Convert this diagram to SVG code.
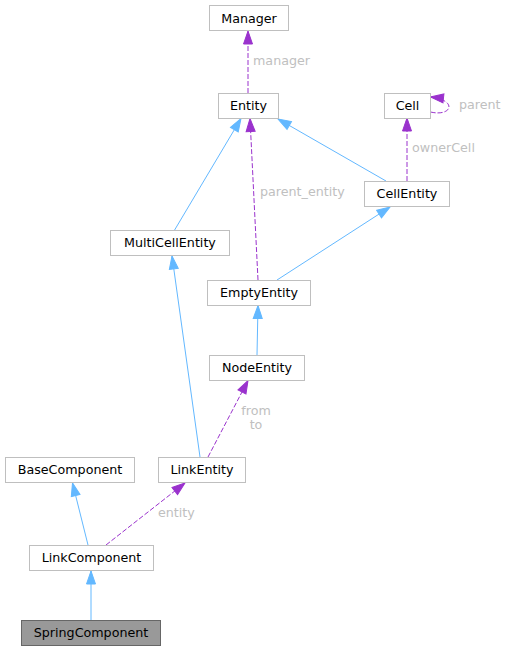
<svg xmlns="http://www.w3.org/2000/svg" width="507" height="651" viewBox="0 0 507 651">
<style>
.node rect{fill:#ffffff;stroke:#bfbfbf;stroke-width:1}
.node text{font-family:"DejaVu Sans",sans-serif;font-size:12.7px;fill:#000000;text-anchor:middle}
.hl rect{fill:#999999;stroke:#666666}
.inh{fill:none;stroke:#63b8ff;stroke-width:1}
.use{fill:none;stroke:#9a32cd;stroke-width:1;stroke-dasharray:5,2}
.lbl{font-family:"DejaVu Sans",sans-serif;font-size:12.7px;fill:#c0c0c0}
</style>
<defs>
<marker id="ab" markerUnits="userSpaceOnUse" markerWidth="16" markerHeight="12" refX="14" refY="5.5" orient="auto">
<path d="M1,1 L14,5.5 L1,10 z" fill="#63b8ff" stroke="#63b8ff"/>
</marker>
<marker id="ap" markerUnits="userSpaceOnUse" markerWidth="16" markerHeight="12" refX="14" refY="5.5" orient="auto">
<path d="M1,1 L14,5.5 L1,10 z" fill="#9a32cd" stroke="#9a32cd"/>
</marker>
</defs>
<g id="edges">
<path class="use" d="M248,93 L248,31" marker-end="url(#ap)"/>
<text class="lbl" x="253" y="65">manager</text>
<path class="use" d="M430.5,112 C452,117 458,100 430.5,97" marker-end="url(#ap)"/>
<text class="lbl" x="459" y="109">parent</text>
<path class="use" d="M407,181 L407,118" marker-end="url(#ap)"/>
<text class="lbl" x="412" y="152">ownerCell</text>
<path class="inh" d="M386,181 L278,119" marker-end="url(#ab)"/>
<path class="inh" d="M174,231 L241,118.5" marker-end="url(#ab)"/>
<path class="use" d="M258,280 L250,118.5" marker-end="url(#ap)"/>
<text class="lbl" x="260" y="196">parent_entity</text>
<path class="inh" d="M277,280 L390,207" marker-end="url(#ab)"/>
<path class="inh" d="M257,355 L258,305.5" marker-end="url(#ab)"/>
<path class="inh" d="M200,457 L172,256" marker-end="url(#ab)"/>
<path class="use" d="M208,457 L248,380.5" marker-end="url(#ap)"/>
<text class="lbl" x="256" y="415" text-anchor="middle">from</text>
<text class="lbl" x="256" y="429" text-anchor="middle">to</text>
<path class="inh" d="M88,545 L72.5,483" marker-end="url(#ab)"/>
<path class="use" d="M106,545 L185,483" marker-end="url(#ap)"/>
<text class="lbl" x="158" y="517">entity</text>
<path class="inh" d="M91,620 L91,571" marker-end="url(#ab)"/>
</g>
<g id="Manager" class="node"><rect x="209.5" y="5.5" width="79" height="25"/><text x="249" y="22.5">Manager</text></g>
<g id="Entity" class="node"><rect x="218.5" y="93.5" width="60" height="25"/><text x="248.5" y="110">Entity</text></g>
<g id="Cell" class="node"><rect x="384.5" y="93.5" width="46" height="25"/><text x="407.5" y="110">Cell</text></g>
<g id="CellEntity" class="node"><rect x="364.5" y="181.5" width="85" height="25"/><text x="407" y="198">CellEntity</text></g>
<g id="MultiCellEntity" class="node"><rect x="110.5" y="230.5" width="119" height="25"/><text x="170" y="247">MultiCellEntity</text></g>
<g id="EmptyEntity" class="node"><rect x="207.5" y="280.5" width="103" height="25"/><text x="259" y="297">EmptyEntity</text></g>
<g id="NodeEntity" class="node"><rect x="209.5" y="355.5" width="95" height="25"/><text x="257" y="372">NodeEntity</text></g>
<g id="BaseComponent" class="node"><rect x="5.5" y="457.5" width="129" height="25"/><text x="70" y="474">BaseComponent</text></g>
<g id="LinkEntity" class="node"><rect x="158.5" y="457.5" width="87" height="25"/><text x="202" y="474">LinkEntity</text></g>
<g id="LinkComponent" class="node"><rect x="29.5" y="545.5" width="124" height="25"/><text x="91.5" y="562">LinkComponent</text></g>
<g id="SpringComponent" class="node hl"><rect x="21.5" y="620.5" width="139" height="25"/><text x="91" y="637">SpringComponent</text></g>
</svg>
